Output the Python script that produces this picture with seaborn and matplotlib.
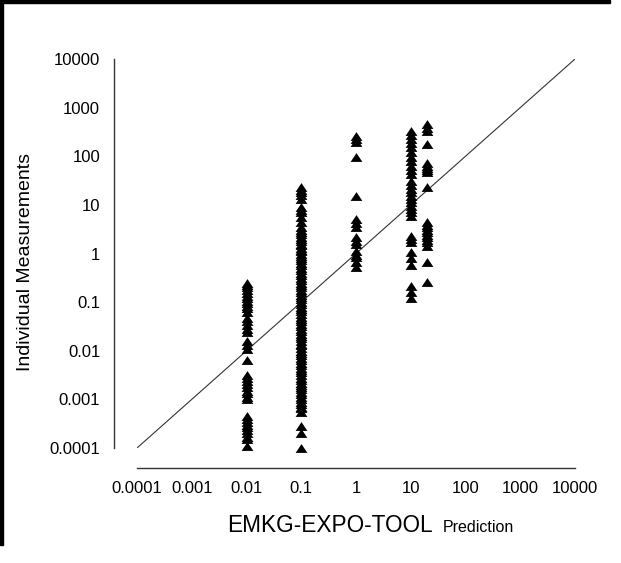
import matplotlib
matplotlib.use("Agg")
import matplotlib.pyplot as plt
import pandas as pd
import seaborn as sns
from matplotlib.path import Path
from matplotlib.patches import Rectangle

# Predicted exposure levels (x) and the individual measurements found at each
pred_levels = [0.01, 0.1, 1, 10, 20]

meas_at_0_01 = [0.25, 0.22, 0.2, 0.175, 0.155, 0.135, 0.12, 0.105, 0.095, 0.085,
                0.075, 0.062, 0.047, 0.04, 0.034, 0.028, 0.024, 0.016, 0.013,
                0.011, 0.0065, 0.0032, 0.0028, 0.0024, 0.0021, 0.0018, 0.0015,
                0.00135, 0.0011, 0.001, 0.00045, 0.0004, 0.00035, 0.0003, 0.00027,
                0.00023, 0.0002, 0.00017, 0.00015, 0.00011]
meas_at_0_1 = [23, 20, 18, 16, 13, 9, 8, 7, 5.5, 4.5, 3.5, 3.1, 2.8, 2.5, 2.2,
               2.0, 1.8, 1.6, 1.5, 1.3, 1.2, 1.1, 1.0, 0.9, 0.8, 0.72, 0.65, 0.57,
               0.5, 0.45, 0.4, 0.36, 0.32, 0.28, 0.25, 0.22, 0.2, 0.18, 0.16, 0.14,
               0.13, 0.115, 0.1, 0.09, 0.08, 0.072, 0.065, 0.057, 0.05, 0.045,
               0.04, 0.036, 0.032, 0.028, 0.025, 0.022, 0.02, 0.018, 0.016, 0.014,
               0.013, 0.0115, 0.01, 0.009, 0.008, 0.0072, 0.0065, 0.0057, 0.005,
               0.0045, 0.004, 0.0036, 0.0032, 0.0028, 0.0025, 0.0022, 0.002,
               0.0018, 0.0016, 0.0014, 0.0013, 0.0011, 0.001, 0.0009, 0.0008,
               0.0007, 0.00065, 0.00055, 0.00028, 0.0002, 0.0001]
meas_at_1 = [260, 230, 196, 96, 15, 5.1, 4.2, 3.5, 2.2, 1.85, 1.56, 1.12, 0.95,
             0.84, 0.66, 0.52]
meas_at_10 = [333, 280, 226, 190, 154, 120, 96, 80, 63, 52, 43, 31, 26, 21, 18,
              15, 13, 11.4, 9.5, 8.2, 7, 5.9, 2.3, 2.0, 1.7, 1.07, 0.8, 0.58,
              0.21, 0.16, 0.12]
meas_at_20 = [457, 390, 333, 178, 72, 64, 58, 52, 47, 23, 4.4, 3.9, 3.5, 3.1, 2.75,
              2.4, 2.2, 1.9, 1.7, 1.4, 0.66, 0.26]

axis_range = [1e-4, 1e4]
tick_values = [1e-4, 1e-3, 1e-2, 1e-1, 1, 10, 100, 1000, 10000]
tick_labels = ["0.0001", "0.001", "0.01", "0.1", "1", "10", "100", "1000", "10000"]

groups = [meas_at_0_01, meas_at_0_1, meas_at_1, meas_at_10, meas_at_20]
df = pd.DataFrame(
    [(p, m) for p, vals in zip(pred_levels, groups) for m in vals],
    columns=["prediction", "measurement"],
)

sns.set_theme(style="white")
plt.rcParams["font.family"] = ["Liberation Sans", "DejaVu Sans"]

W, H = 621, 563
fig = plt.figure(figsize=(W / 100, H / 100), dpi=100)
ax = fig.add_axes([137 / W, 1 - 448 / H, (575 - 137) / W, (448 - 59) / H])

# squat filled triangle marker
tri = Path([(0, 0.75), (-1, -0.75), (1, -0.75), (0, 0.75)],
           [Path.MOVETO, Path.LINETO, Path.LINETO, Path.CLOSEPOLY])

sns.scatterplot(data=df, x="prediction", y="measurement", ax=ax,
                marker=tri, s=72, color="black", linewidth=0, clip_on=False,
                zorder=3, legend=False)

# 1:1 line
ax.plot(axis_range, axis_range, color="#333333", lw=0.8, zorder=2)

ax.set_xscale("log")
ax.set_yscale("log")
ax.set_xlim(axis_range)
ax.set_ylim(axis_range)
ax.set_xticks(tick_values)
ax.set_xticklabels(tick_labels)
ax.set_yticks(tick_values)
ax.set_yticklabels(tick_labels)
ax.minorticks_off()
ax.set_xlabel("")
ax.set_ylabel("")

for side in ["top", "right"]:
    ax.spines[side].set_visible(False)
ax.spines["left"].set_position(("outward", 16.5))
ax.spines["bottom"].set_position(("outward", 14.5))
for side in ["left", "bottom"]:
    ax.spines[side].set_color("#333333")
    ax.spines[side].set_linewidth(1.0)

ax.tick_params(axis="both", which="major", direction="out", length=5, width=1,
               color="#333333", labelsize=12, labelcolor="black")
ax.tick_params(axis="y", pad=5)
ax.tick_params(axis="x", pad=4)
ax.set_facecolor("none")

# axis titles
fig.text(433 / W, 1 - 532 / H, "EMKG-EXPO-TOOL", ha="right", va="baseline",
         fontsize=16.3, color="black")
fig.text(443 / W, 1 - 532 / H, "Prediction", ha="left", va="baseline",
         fontsize=11.5, color="black")
fig.text(26 / W, 1 - 262 / H, "Individual Measurements", rotation=90,
         ha="center", va="center", fontsize=14, color="black")

# dark frame along the top and left edges
for x0, y0, w, h in [(0, H - 3, 610, 3), (0, 18, 3, H - 18)]:
    fig.patches.append(Rectangle((x0 / W, y0 / H), w / W, h / H,
                                 transform=fig.transFigure, color="black",
                                 zorder=10))

fig.savefig("out.png", dpi=100)
